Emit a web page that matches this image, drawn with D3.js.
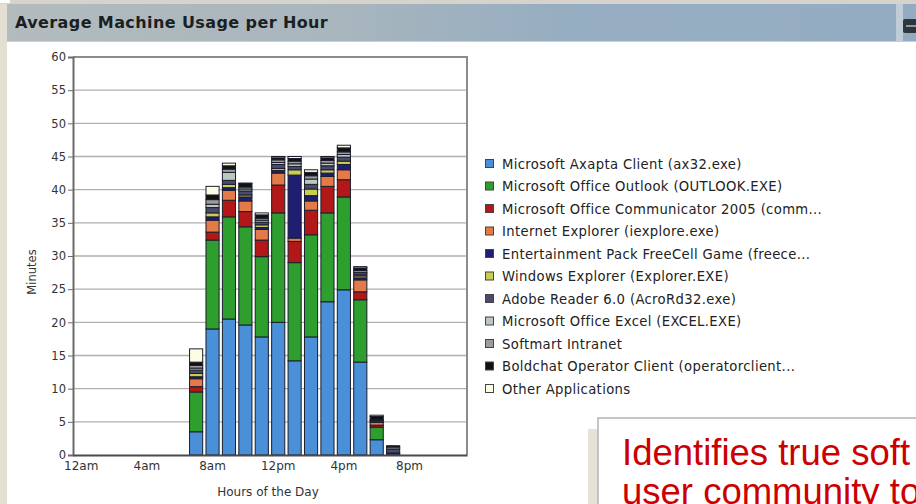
<!DOCTYPE html>
<html>
<head>
<meta charset="utf-8">
<script src="https://cdn.jsdelivr.net/npm/d3@7"></script>
<style>
  html, body { margin: 0; padding: 0; background: #ffffff; overflow: hidden; }
  svg { display: block; }
</style>
</head>
<body>
<svg id="chart" width="916" height="504"></svg>
<script>
// ---------- DATA ----------
const hourLabels = ["12am","1am","2am","3am","4am","5am","6am","7am","8am","9am","10am","11am",
                    "12pm","1pm","2pm","3pm","4pm","5pm","6pm","7pm","8pm","9pm","10pm","11pm"];
const tickLabels = ["12am","4am","8am","12pm","4pm","8pm"];
const yTicks = [0,5,10,15,20,25,30,35,40,45,50,55,60];

const seriesNames = [
  "Microsoft Axapta Client (ax32.exe)",
  "Microsoft Office Outlook (OUTLOOK.EXE)",
  "Microsoft Office Communicator 2005 (comm...",
  "Internet Explorer (iexplore.exe)",
  "Entertainment Pack FreeCell Game (freece...",
  "Windows Explorer (Explorer.EXE)",
  "Adobe Reader 6.0 (AcroRd32.exe)",
  "Microsoft Office Excel (EXCEL.EXE)",
  "Softmart Intranet",
  "Boldchat Operator Client (operatorclient...",
  "Other Applications"
];
const seriesColors = ["#4a90d9","#2e9e2e","#b31818","#e37a48","#1e1e72","#c9cd52",
                      "#4a4a6c","#b9c9c1","#9c9c9c","#111111","#fdfde6"];

// minutes per hour, 24 values each (12am .. 11pm)
const axapta       = [0,0,0,0,0,0,0, 3.5,19.0,20.5,19.6,17.8,20.0,14.2,17.8,23.1,24.9,14.0,2.3,0.2, 0,0,0,0];
const outlook      = [0,0,0,0,0,0,0, 6.0,13.4,15.4,14.8,12.1,16.5,14.8,15.4,13.4,14.0, 9.4,1.9,0.1, 0,0,0,0];
const communicator = [0,0,0,0,0,0,0, 0.8, 1.2, 2.5, 2.3, 2.5, 4.2, 3.2, 3.7, 4.0, 2.6, 1.2,0.3,0.0, 0,0,0,0];
const iexplore     = [0,0,0,0,0,0,0, 1.2, 1.8, 1.5, 1.6, 1.6, 1.8, 0.5, 1.4, 1.5, 1.5, 1.8,0.4,0.0, 0,0,0,0];
const freecell     = [0,0,0,0,0,0,0, 0.3, 0.5, 0.4, 0.6, 0.3, 0.4, 9.5, 0.8, 0.5, 0.8, 0.3,0.0,0.0, 0,0,0,0];
const winexplorer  = [0,0,0,0,0,0,0, 0.5, 0.6, 0.5, 0.3, 0.4, 0.3, 0.8, 1.0, 0.5, 0.5, 0.3,0.1,0.0, 0,0,0,0];
const adobe        = [0,0,0,0,0,0,0, 0.5, 0.8, 0.6, 0.6, 0.4, 0.6, 0.5, 0.7, 0.6, 0.6, 0.3,0.2,0.6, 0,0,0,0];
const excel        = [0,0,0,0,0,0,0, 0.3, 0.5, 1.2, 0.3, 0.3, 0.3, 0.4, 0.8, 0.4, 0.4, 0.2,0.0,0.0, 0,0,0,0];
const softmart     = [0,0,0,0,0,0,0, 0.4, 0.7, 0.5, 0.3, 0.3, 0.4, 0.4, 0.5, 0.4, 0.4, 0.3,0.1,0.3, 0,0,0,0];
const boldchat     = [0,0,0,0,0,0,0, 0.5, 0.7, 0.5, 0.5, 0.5, 0.3, 0.4, 0.5, 0.4, 0.6, 0.4,0.5,0.2, 0,0,0,0];
const other        = [0,0,0,0,0,0,0, 2.0, 1.3, 0.4, 0.1, 0.3, 0.2, 0.3, 0.4, 0.2, 0.4, 0.2,0.2,0.0, 0,0,0,0];

const seriesValues = [axapta, outlook, communicator, iexplore, freecell, winexplorer,
                      adobe, excel, softmart, boldchat, other];

const calloutLines = ["Identifies true soft", "user community to"];

// ---------- DRAW ----------
const svg = d3.select("#chart");
const W = 916, H = 504;

// background pieces
svg.append("rect").attr("x",0).attr("y",0).attr("width",W).attr("height",H).attr("fill","#ffffff");
svg.append("rect").attr("x",0).attr("y",0).attr("width",W).attr("height",4).attr("fill","#d6d3cc");
svg.append("rect").attr("x",0).attr("y",0).attr("width",10).attr("height",3).attr("fill","#ffffff");
svg.append("rect").attr("x",0).attr("y",4).attr("width",7).attr("height",H-4).attr("fill","#e3dfd3");

const defs = svg.append("defs");
const grad = defs.append("linearGradient").attr("id","titleGrad").attr("x1","0").attr("x2","1").attr("y1","0").attr("y2","0");
grad.append("stop").attr("offset","0").attr("stop-color","#b3bbbe");
grad.append("stop").attr("offset","0.35").attr("stop-color","#a9b6bd");
grad.append("stop").attr("offset","0.6").attr("stop-color","#97aec1");
grad.append("stop").attr("offset","1").attr("stop-color","#94acc2");

svg.append("rect").attr("x",7).attr("y",4).attr("width",W-7).attr("height",38).attr("fill","url(#titleGrad)");
svg.append("rect").attr("x",7).attr("y",41).attr("width",W-7).attr("height",1).attr("fill","#c9d0d4");
svg.append("rect").attr("x",896).attr("y",4).attr("width",7).attr("height",38).attr("fill","#bfcdd8");
svg.append("rect").attr("x",903).attr("y",19).attr("width",14).attr("height",14).attr("rx",2).attr("fill","#2d353d");
svg.append("rect").attr("x",906).attr("y",25).attr("width",10).attr("height",2).attr("fill","#8a98a4");

svg.append("text").attr("x",15).attr("y",28)
  .attr("font-family","DejaVu Sans").attr("font-weight","bold").attr("font-size",16)
  .attr("letter-spacing",0.4)
  .attr("fill","#1a1f24").text("Average Machine Usage per Hour");

// plot geometry
const plot = {left:73, right:467, top:57, bottom:455};
const x = d3.scaleBand().domain(d3.range(24)).range([plot.left, plot.right])
  .paddingInner(0.2).paddingOuter(0.1);
const y = d3.scaleLinear().domain([0,60]).range([plot.bottom, plot.top]);

// gridlines
svg.append("g").selectAll("line").data(yTicks.filter(d => d > 0 && d < 60)).join("line")
  .attr("x1", plot.left).attr("x2", plot.right)
  .attr("y1", d => y(d)).attr("y2", d => y(d))
  .attr("stroke","#b0b0b0").attr("stroke-width",1.4);

// stacked bars
const table = hourLabels.map((h,i) => {
  const row = {hour:i};
  seriesNames.forEach((s,k) => row[k] = seriesValues[k][i]);
  return row;
});
const stack = d3.stack().keys(d3.range(seriesNames.length))(table);

const gBars = svg.append("g");
stack.forEach((layer,k) => {
  gBars.append("g").selectAll("rect")
    .data(layer.filter(d => d[1] - d[0] > 0))
    .join("rect")
    .attr("x", d => x(d.data.hour))
    .attr("width", x.bandwidth())
    .attr("y", d => y(d[1]))
    .attr("height", d => y(d[0]) - y(d[1]))
    .attr("fill", seriesColors[k])
    .attr("stroke", "#1b1d2c")
    .attr("stroke-width", 1);
});

// frame
svg.append("line").attr("x1",plot.left).attr("x2",plot.right+1).attr("y1",plot.top).attr("y2",plot.top)
  .attr("stroke","#8c8c8c").attr("stroke-width",2);
svg.append("line").attr("x1",plot.right).attr("x2",plot.right).attr("y1",plot.top).attr("y2",plot.bottom)
  .attr("stroke","#8c8c8c").attr("stroke-width",2);

// y axis
const yAxis = d3.axisLeft(y).tickValues(yTicks).tickSize(5).tickPadding(2);
const gy = svg.append("g").attr("transform",`translate(${plot.left},0)`).call(yAxis);
gy.select(".domain").attr("stroke","#6a6a6a").attr("stroke-width",2);
gy.selectAll(".tick line").attr("stroke","#6a6a6a");
gy.selectAll(".tick text").attr("font-family","DejaVu Sans").attr("font-size",11.5).attr("fill","#333");

// x axis
const xAxis = d3.axisBottom(x)
  .tickValues(tickLabels.map(l => hourLabels.indexOf(l)))
  .tickFormat(i => hourLabels[i]).tickSize(0).tickPadding(6);
const gx = svg.append("g").attr("transform",`translate(0,${plot.bottom})`).call(xAxis);
gx.select(".domain").attr("stroke","#4a4a4a").attr("stroke-width",2);
gx.selectAll(".tick text").attr("font-family","DejaVu Sans").attr("font-size",12).attr("fill","#333");

// axis titles
svg.append("text").attr("x",(plot.left+plot.right)/2 - 2).attr("y",496).attr("text-anchor","middle")
  .attr("font-family","DejaVu Sans").attr("font-size",12).attr("fill","#333").text("Hours of the Day");
svg.append("text").attr("transform","translate(36,272) rotate(-90)").attr("text-anchor","middle")
  .attr("font-family","DejaVu Sans").attr("font-size",11.5).attr("fill","#333").text("Minutes");

// legend
const leg = svg.append("g");
seriesNames.forEach((name,k) => {
  const yy = 164 + k*22.5;
  leg.append("rect").attr("x",485.5).attr("y",yy-4.5).attr("width",8).attr("height",8)
    .attr("fill",seriesColors[k]).attr("stroke","#444").attr("stroke-width",1);
  leg.append("text").attr("x",502).attr("y",yy+4.5)
    .attr("font-family","DejaVu Sans").attr("font-size",13.2).attr("letter-spacing",0.35)
    .attr("fill","#222").text(name);
});

// callout box
svg.append("rect").attr("x",588).attr("y",429).attr("width",12).attr("height",80).attr("fill","#e6e2d6");
svg.append("rect").attr("x",598).attr("y",418).attr("width",330).attr("height",100)
  .attr("fill","#ffffff").attr("stroke","#b4b4b4").attr("stroke-width",1.5);
calloutLines.forEach((t,i) => {
  svg.append("text").attr("x",622).attr("y",465 + i*39)
    .attr("font-family","Liberation Sans").attr("font-size",36.5).attr("fill","#cc0000")
    .text(t);
});
</script>
</body>
</html>
